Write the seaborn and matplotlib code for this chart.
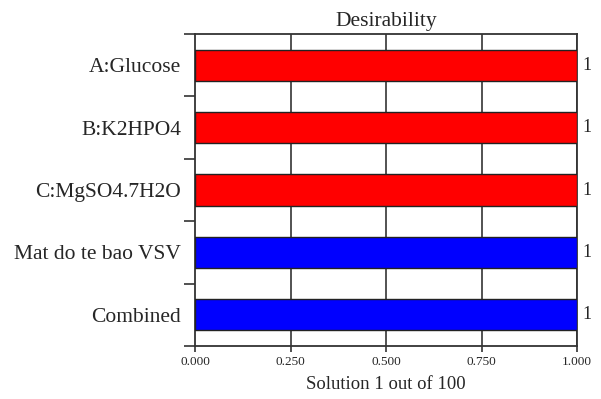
import pandas as pd
import matplotlib
matplotlib.use("Agg")
import matplotlib.pyplot as plt
import seaborn as sns
from matplotlib.ticker import FixedLocator

# -----------------------------------------
# DATA
# -----------------------------------------
factors = ["A:Glucose", "B:K2HPO4", "C:MgSO4.7H2O", "Mat do te bao VSV", "Combined"]
desirability = [1.0, 1.0, 1.0, 1.0, 1.0]
kinds = ["factor", "factor", "factor", "response", "combined"]
value_labels = ["1", "1", "1", "1", "1"]

df = pd.DataFrame({"Factor": factors, "Desirability": desirability, "Kind": kinds})

# -----------------------------------------
# STYLE
# -----------------------------------------
sns.set_style("white")
plt.rcParams["font.family"] = ["Liberation Serif", "DejaVu Serif"]

palette = {"factor": "#ff0000", "response": "#0000ff", "combined": "#0000ff"}

fig = plt.figure(figsize=(6.01, 3.99), dpi=100)
ax = fig.add_axes([0.3245, 0.1328, 0.6356, 0.782])

sns.barplot(data=df, x="Desirability", y="Factor", hue="Kind", palette=palette,
            dodge=False, legend=False, width=0.5, saturation=1,
            edgecolor="#222222", linewidth=1.0, orient="h", ax=ax, zorder=3)

ax.set_xlim(0, 1)
ax.set_ylim(4.5, -0.5)

# vertical grid lines
for xv in [0.25, 0.5, 0.75, 1.0]:
    ax.axvline(xv, color="#444444", lw=1.3, zorder=1)

ax.set_xticks([0.0, 0.25, 0.5, 0.75, 1.0])
ax.set_xticklabels(["0.000", "0.250", "0.500", "0.750", "1.000"], fontsize=9.5)
ax.tick_params(axis="x", which="major", direction="out", length=4, width=1.2,
               color="#333333", bottom=True, pad=3)

ax.set_yticks(range(len(factors)))
ax.set_yticklabels(factors, fontsize=15.5)
ax.tick_params(axis="y", which="major", length=0, pad=10)
ax.yaxis.set_minor_locator(FixedLocator([-0.5, 0.5, 1.5, 2.5, 3.5, 4.5]))
ax.tick_params(axis="y", which="minor", direction="out", length=8, width=1.2,
               color="#333333", left=True)

for side in ["left", "top", "bottom", "right"]:
    ax.spines[side].set_visible(True)
    ax.spines[side].set_color("#333333")
    ax.spines[side].set_linewidth(1.3)

for i, lab in enumerate(value_labels):
    ax.text(desirability[i] + 0.014, i, lab, va="center", ha="left", fontsize=13,
            clip_on=False)

ax.set_title("Desirability", fontsize=15.5, pad=6)
ax.set_xlabel("Solution 1 out of 100", fontsize=13.5, labelpad=6)
ax.set_ylabel("")

plt.savefig("out.png", dpi=100)
